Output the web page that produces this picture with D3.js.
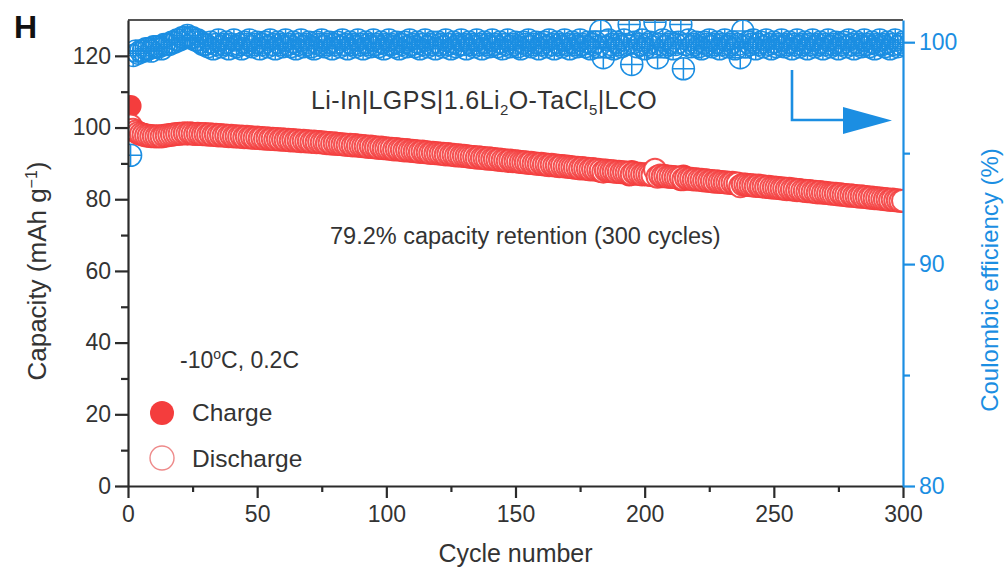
<!DOCTYPE html>
<html>
<head>
<meta charset="utf-8">
<script src="https://cdn.jsdelivr.net/npm/d3@7/dist/d3.min.js"></script>
<style>
  html, body { margin: 0; padding: 0; background: #fff; }
  svg { display: block; font-family: "Liberation Sans", Arial, Helvetica, sans-serif; }
</style>
</head>
<body>
<svg id="chart" width="1007" height="570"></svg>
<script>
// Cycle index (1..300)
const cycles = d3.range(1, 301);

// Charge capacity, mAh g-1
const charge = [
106.0,99.8,99.2,98.7,98.4,98.2,98.0,97.9,97.7,97.7,
97.6,97.7,97.6,97.8,97.9,98.0,98.1,98.2,98.2,98.3,
98.3,98.3,98.2,98.3,98.2,98.1,98.2,98.2,98.2,98.3,
98.1,98.2,98.0,98.1,97.9,98.0,97.8,97.9,97.7,97.8,
97.6,97.7,97.5,97.6,97.4,97.5,97.3,97.4,97.2,97.3,
97.1,97.2,97.0,97.1,96.9,97.0,96.8,96.9,96.7,96.8,
96.6,96.7,96.5,96.6,96.4,96.5,96.3,96.4,96.2,96.3,
96.1,96.2,96.0,96.1,95.9,95.9,95.7,95.8,95.6,95.7,
95.5,95.5,95.4,95.4,95.2,95.3,95.1,95.2,95.0,95.0,
94.9,94.9,94.7,94.8,94.6,94.6,94.4,94.5,94.3,94.3,
94.2,94.2,94.0,94.1,93.9,93.9,93.7,93.8,93.6,93.6,
93.5,93.5,93.3,93.4,93.2,93.2,93.0,93.1,92.9,92.9,
92.8,92.8,92.6,92.7,92.5,92.5,92.3,92.4,92.2,92.2,
92.1,92.0,91.9,91.9,91.7,91.8,91.6,91.6,91.4,91.5,
91.3,91.3,91.1,91.2,91.0,91.0,90.8,90.9,90.7,90.7,
90.6,90.5,90.4,90.4,90.2,90.3,90.1,90.1,89.9,90.0,
89.8,89.8,89.6,89.7,89.5,89.5,89.3,89.4,89.2,89.2,
89.1,89.0,88.9,88.9,88.7,88.8,88.6,88.6,88.4,88.5,
88.3,88.3,87.6,88.3,88.1,88.0,87.9,87.9,87.7,87.8,
87.6,87.6,87.5,86.6,87.9,87.4,87.2,87.2,87.0,87.1,
87.0,86.9,86.8,87.8,86.9,86.7,86.5,86.6,86.4,86.4,
86.3,86.2,86.1,85.3,86.6,86.0,85.8,85.8,85.6,85.7,
85.5,85.5,85.3,85.4,85.2,85.2,85.0,85.1,84.9,84.9,
84.8,84.8,84.6,84.7,84.5,84.5,83.8,83.7,84.2,84.1,
84.0,84.0,83.8,83.9,83.7,83.7,83.5,83.6,83.4,83.4,
83.3,83.2,83.1,83.1,82.9,83.0,82.8,82.8,82.6,82.7,
82.5,82.5,82.3,82.4,82.2,82.2,82.0,82.1,81.9,81.9,
81.8,81.7,81.6,81.6,81.4,81.5,81.3,81.3,81.1,81.2,
81.0,81.0,80.8,80.9,80.7,80.7,80.5,80.6,80.4,80.4,
80.3,80.2,80.1,80.1,79.9,80.0,79.8,79.8,79.6,79.7
];

// Discharge capacity, mAh g-1
const discharge = [
100.6,99.4,98.9,98.5,98.2,98.0,97.8,97.7,97.6,97.6,
97.5,97.6,97.5,97.7,97.8,97.9,98.0,98.1,98.2,98.3,
98.3,98.4,98.3,98.4,98.3,98.2,98.3,98.2,98.1,98.2,
98.0,98.1,97.9,98.0,97.8,97.9,97.7,97.8,97.6,97.7,
97.5,97.6,97.4,97.5,97.3,97.4,97.2,97.3,97.1,97.2,
97.0,97.1,96.9,97.0,96.8,96.9,96.7,96.8,96.6,96.7,
96.5,96.6,96.4,96.5,96.3,96.4,96.2,96.3,96.1,96.2,
96.0,96.1,95.9,96.0,95.8,95.8,95.6,95.7,95.5,95.6,
95.4,95.4,95.3,95.3,95.1,95.2,95.0,95.1,94.9,94.9,
94.8,94.8,94.6,94.7,94.5,94.5,94.3,94.4,94.2,94.2,
94.1,94.1,93.9,94.0,93.8,93.8,93.6,93.7,93.5,93.5,
93.4,93.4,93.2,93.3,93.1,93.1,92.9,93.0,92.8,92.8,
92.7,92.7,92.5,92.6,92.4,92.4,92.2,92.3,92.1,92.1,
92.0,91.9,91.8,91.8,91.6,91.7,91.5,91.5,91.3,91.4,
91.2,91.2,91.0,91.1,90.9,90.9,90.7,90.8,90.6,90.6,
90.5,90.4,90.3,90.3,90.1,90.2,90.0,90.0,89.8,89.9,
89.7,89.7,89.5,89.6,89.4,89.4,89.2,89.3,89.1,89.1,
89.0,88.9,88.8,88.8,88.6,88.7,88.5,88.5,88.3,88.4,
88.2,88.2,88.0,87.7,88.0,87.9,87.8,87.8,87.6,87.7,
87.5,87.5,87.4,87.3,87.0,87.3,87.1,87.1,86.9,87.0,
86.9,86.8,86.7,88.2,86.3,86.6,86.4,86.5,86.3,86.3,
86.2,86.1,86.0,86.0,85.6,85.9,85.7,85.7,85.5,85.6,
85.4,85.4,85.2,85.3,85.1,85.1,84.9,85.0,84.8,84.8,
84.7,84.7,84.5,84.6,84.4,84.4,83.6,84.1,84.1,84.0,
83.9,83.9,83.7,83.8,83.6,83.6,83.4,83.5,83.3,83.3,
83.2,83.1,83.0,83.0,82.8,82.9,82.7,82.7,82.5,82.6,
82.4,82.4,82.2,82.3,82.1,82.1,81.9,82.0,81.8,81.8,
81.7,81.6,81.5,81.5,81.3,81.4,81.2,81.2,81.0,81.1,
80.9,80.9,80.7,80.8,80.6,80.6,80.4,80.5,80.3,80.3,
80.2,80.1,80.0,80.0,79.8,79.9,79.7,79.7,79.5,79.6
];

// Coulombic efficiency, %
const efficiency = [
94.9,99.4,99.6,99.5,99.6,99.6,99.7,99.7,99.6,99.8,
99.8,99.8,99.7,99.9,99.9,99.9,100.0,100.0,100.1,100.1,
100.2,100.2,100.3,100.2,100.2,100.1,100.1,100.0,99.9,99.9,
99.8,100.0,99.7,99.9,100.1,99.8,99.9,100.0,99.7,99.9,
100.1,99.8,99.9,99.7,100.0,99.9,100.1,99.8,99.9,100.0,
99.7,99.9,100.0,99.8,100.1,99.9,99.7,100.0,99.9,99.8,
100.1,99.9,99.8,100.0,99.7,99.9,100.1,99.8,99.9,100.0,
99.8,99.7,100.0,99.9,100.1,99.8,99.9,100.0,99.7,99.9,
100.0,99.8,100.1,99.9,99.7,100.0,99.9,99.8,100.1,99.9,
99.7,100.0,99.9,99.8,100.1,99.9,99.8,100.0,99.7,99.9,
100.1,99.9,99.8,100.0,99.7,99.9,100.0,99.8,100.1,99.9,
99.8,100.0,99.7,99.9,100.1,99.8,99.9,100.0,99.7,100.0,
99.9,99.8,100.1,99.9,99.7,100.0,99.8,99.9,100.1,99.9,
99.7,100.0,99.9,99.8,100.1,99.9,99.7,100.0,99.9,99.8,
100.1,99.9,99.8,100.0,99.7,99.9,100.1,99.8,99.9,100.0,
99.8,99.7,100.0,99.9,100.1,99.8,99.9,100.0,99.7,99.9,
100.0,99.8,100.1,99.9,99.7,100.0,99.9,99.8,100.1,99.9,
99.7,100.0,99.9,99.8,100.1,99.9,99.8,100.0,99.7,99.9,
100.0,99.8,100.5,99.3,99.8,100.1,99.9,99.7,100.0,99.9,
99.8,100.1,99.9,100.8,99.0,100.0,99.8,99.9,100.1,99.7,
99.9,100.0,99.8,100.9,99.3,99.9,100.1,99.8,99.9,100.0,
99.7,99.9,100.0,100.8,98.8,99.9,100.1,99.8,99.9,100.0,
99.8,99.7,100.0,99.9,100.1,99.8,99.9,100.0,99.7,99.9,
100.1,99.8,99.9,100.0,99.7,99.9,99.3,100.5,99.8,100.0,
99.9,100.1,99.7,99.9,100.0,99.8,100.1,99.9,99.7,100.0,
99.8,99.9,100.1,99.8,99.9,100.0,99.7,99.9,100.1,99.8,
99.9,100.0,99.7,99.9,100.1,99.8,99.9,100.0,99.7,99.9,
100.1,99.8,99.9,100.0,99.7,99.9,100.0,99.8,100.1,99.9,
99.7,100.0,99.9,99.8,100.1,99.9,99.8,100.0,99.7,99.9,
100.1,99.9,99.8,100.0,99.7,99.9,100.1,99.8,99.9,100.0
];

// Axis ticks
const xTicks = [0, 50, 100, 150, 200, 250, 300];
const xMinor = [25, 75, 125, 175, 225, 275];
const yTicks = [0, 20, 40, 60, 80, 100, 120];
const yMinor = [10, 30, 50, 70, 90, 110];
const ceTicks = [80, 90, 100];
const ceMinor = [85, 95];

const RED = "#f43d3d";
const BLUE = "#1b8ee2";
const INK = "#2b2b2b";
const TICK_FONT = 23;

const svg = d3.select("#chart");
const m = { left: 128, right: 903, top: 20, bottom: 486 };

const x = d3.scaleLinear().domain([0, 300]).range([m.left, m.right]);
const y = d3.scaleLinear().domain([0, 130]).range([m.bottom, m.top]);
const yCE = d3.scaleLinear().domain([80, 101]).range([m.bottom, m.top]);

svg.append("defs").append("clipPath").attr("id", "plot-clip")
  .append("rect")
  .attr("x", m.left).attr("y", m.top)
  .attr("width", m.right - m.left).attr("height", m.bottom - m.top);

// top frame line
svg.append("line")
  .attr("x1", m.left).attr("x2", m.right)
  .attr("y1", m.top).attr("y2", m.top)
  .attr("stroke", "#555").attr("stroke-width", 2.2);

// data markers
const plot = svg.append("g").attr("clip-path", "url(#plot-clip)");
const R = 11;

// coulombic efficiency: circle with cross
const ceG = plot.append("g")
  .attr("fill", "none").attr("stroke", BLUE).attr("stroke-width", 1.5);
cycles.forEach((c, i) => {
  const g = ceG.append("g")
    .attr("transform", `translate(${x(c)},${yCE(efficiency[i])})`);
  g.append("circle").attr("r", R);
  g.append("path").attr("d", `M${-R},0H${R}M0,${-R}V${R}`);
});

// charge: filled circles
plot.append("g").selectAll("circle")
  .data(cycles)
  .join("circle")
  .attr("cx", c => x(c))
  .attr("cy", (c, i) => y(charge[i]))
  .attr("r", R)
  .attr("fill", RED);

// discharge: open circles
plot.append("g").selectAll("circle")
  .data(cycles)
  .join("circle")
  .attr("cx", c => x(c))
  .attr("cy", (c, i) => y(discharge[i]))
  .attr("r", R)
  .attr("fill", "#fff")
  .attr("stroke", RED)
  .attr("stroke-width", 2)
  .attr("stroke-opacity", 0.9);

// axes
function styleAxis(g, color) {
  g.select(".domain").attr("stroke", color).attr("stroke-width", 2.2);
  g.selectAll(".tick line").attr("stroke", color).attr("stroke-width", 2.2);
  g.selectAll(".tick text")
    .attr("fill", color === INK ? "#333" : color)
    .style("font-size", TICK_FONT + "px")
    .style("font-family", '"Liberation Sans", Arial, sans-serif');
}

// bottom
svg.append("g").attr("transform", `translate(0,${m.bottom})`)
  .call(d3.axisBottom(x).tickValues(xMinor).tickSize(6).tickFormat(""))
  .call(g => { g.select(".domain").remove(); styleAxis(g, INK); });
svg.append("g").attr("transform", `translate(0,${m.bottom})`)
  .call(d3.axisBottom(x).tickValues(xTicks).tickSize(12).tickSizeOuter(0).tickPadding(8))
  .call(g => styleAxis(g, INK));

// left
svg.append("g").attr("transform", `translate(${m.left},0)`)
  .call(d3.axisLeft(y).tickValues(yMinor).tickSize(7).tickFormat(""))
  .call(g => { g.select(".domain").remove(); styleAxis(g, INK); });
svg.append("g").attr("transform", `translate(${m.left},0)`)
  .call(d3.axisLeft(y).tickValues(yTicks).tickSize(13).tickSizeOuter(0).tickPadding(4))
  .call(g => styleAxis(g, INK));

// right
svg.append("g").attr("transform", `translate(${m.right},0)`)
  .call(d3.axisRight(yCE).tickValues(ceMinor).tickSize(7).tickFormat(""))
  .call(g => { g.select(".domain").remove(); styleAxis(g, BLUE); });
svg.append("g").attr("transform", `translate(${m.right},0)`)
  .call(d3.axisRight(yCE).tickValues(ceTicks).tickSize(12).tickSizeOuter(0).tickPadding(4))
  .call(g => styleAxis(g, BLUE));

// axis titles
svg.append("text")
  .attr("x", (m.left + m.right) / 2).attr("y", 562)
  .attr("text-anchor", "middle").attr("fill", "#333")
  .style("font-size", "25px")
  .text("Cycle number");

const yl = svg.append("text")
  .attr("transform", "translate(46,271) rotate(-90)")
  .attr("text-anchor", "middle").attr("fill", "#333")
  .style("font-size", "26px");
yl.append("tspan").text("Capacity (mAh g");
yl.append("tspan").attr("dy", -9).style("font-size", "16px").text("−1");
yl.append("tspan").attr("dy", 9).text(")");

svg.append("text")
  .attr("transform", "translate(998,280) rotate(-90)")
  .attr("text-anchor", "middle").attr("fill", BLUE)
  .style("font-size", "24px")
  .text("Coulombic efficiency (%)");

// panel letter
svg.append("text")
  .attr("x", 14).attr("y", 38)
  .attr("fill", "#111")
  .style("font-size", "32px").style("font-weight", "bold")
  .text("H");

// cell label
const cell = svg.append("text")
  .attr("x", 311).attr("y", 109)
  .attr("fill", "#333").style("font-size", "25px")
  .style("letter-spacing", "0.4px");
cell.append("tspan").text("Li-In|LGPS|1.6Li");
cell.append("tspan").attr("dy", 6).style("font-size", "15px").text("2");
cell.append("tspan").attr("dy", -6).text("O-TaCl");
cell.append("tspan").attr("dy", 6).style("font-size", "15px").text("5");
cell.append("tspan").attr("dy", -6).text("|LCO");

svg.append("text")
  .attr("x", 330).attr("y", 244)
  .attr("fill", "#333").style("font-size", "23.5px")
  .text("79.2% capacity retention (300 cycles)");

const cond = svg.append("text")
  .attr("x", 180).attr("y", 368)
  .attr("fill", "#333").style("font-size", "23px");
cond.append("tspan").text("-10");
cond.append("tspan").attr("dy", -9).style("font-size", "14px").text("o");
cond.append("tspan").attr("dy", 9).text("C, 0.2C");

// legend
svg.append("circle").attr("cx", 162).attr("cy", 413).attr("r", 12).attr("fill", RED);
svg.append("text").attr("x", 192).attr("y", 421)
  .attr("fill", "#333").style("font-size", "24.5px").text("Charge");
svg.append("circle").attr("cx", 162).attr("cy", 458).attr("r", 12)
  .attr("fill", "#fff").attr("stroke", "#ee8a8a").attr("stroke-width", 1.4);
svg.append("text").attr("x", 192).attr("y", 467)
  .attr("fill", "#333").style("font-size", "24.5px").text("Discharge");

// arrow pointing to the right-hand axis
svg.append("path")
  .attr("d", "M792,70V120H848")
  .attr("fill", "none").attr("stroke", BLUE).attr("stroke-width", 2.6);
svg.append("path")
  .attr("d", "M843,107L892,120.5L843,134Z")
  .attr("fill", BLUE);
</script>
</body>
</html>
